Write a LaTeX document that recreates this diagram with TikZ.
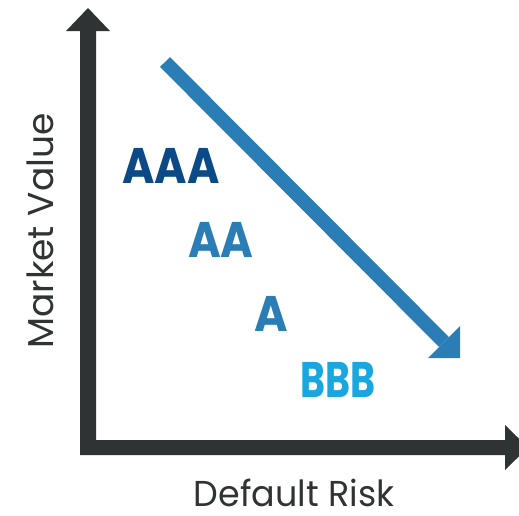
\documentclass[tikz,border=0pt]{standalone}
\usepackage{fontspec}
\setmainfont{Poppins}
\definecolor{axisgray}{HTML}{303333}
\definecolor{midblue}{HTML}{2A7DB5}
\definecolor{darkblue}{HTML}{0B4A86}
\definecolor{lightblue}{HTML}{1AA7E0}
\begin{document}
\begin{tikzpicture}[x=1pt,y=-1pt,
  rating/.style={inner sep=0pt,font=\fontsize{50}{50}\selectfont\bfseries},
  axlabel/.style={inner sep=0pt,text depth=0pt,text=axisgray,font=\fontsize{36}{36}\selectfont}]
\useasboundingbox (0,0) rectangle (519,515);
\clip (0,0) rectangle (519,515);
% axes
\fill[axisgray] (80,455) -- (80,31) -- (66,31) -- (88,8) -- (110,31) -- (96,31) -- (96,440)
  -- (505,440) -- (505,425) -- (528,447.5) -- (505,470) -- (505,455) -- cycle;
% blue arrow
\coordinate (s) at (165,62);
\coordinate (e) at (444,342);
\draw[midblue,line width=14pt] (s) -- (e);
\fill[midblue] (460,326) -- (460,358) -- (428,358) -- cycle;
% ratings
\node[rating,text=darkblue,anchor=base west,xscale=0.88] (aaa) at (122,183) {AAA};
\node[rating,text=midblue,anchor=base west,xscale=0.89] (aa) at (188,257) {AA};
\node[rating,text=midblue,anchor=base west,xscale=0.91] (a) at (254,331) {A};
\node[rating,text=lightblue,anchor=base west,xscale=0.76] (bbb) at (300,397) {BBB};
% axis labels
\node[axlabel,anchor=base,xscale=0.97] (xl) at (294,506) {Default Risk};
\node[axlabel,anchor=base,rotate=90] (yl) at (53,231) {Market Value};
\end{tikzpicture}
\end{document}
